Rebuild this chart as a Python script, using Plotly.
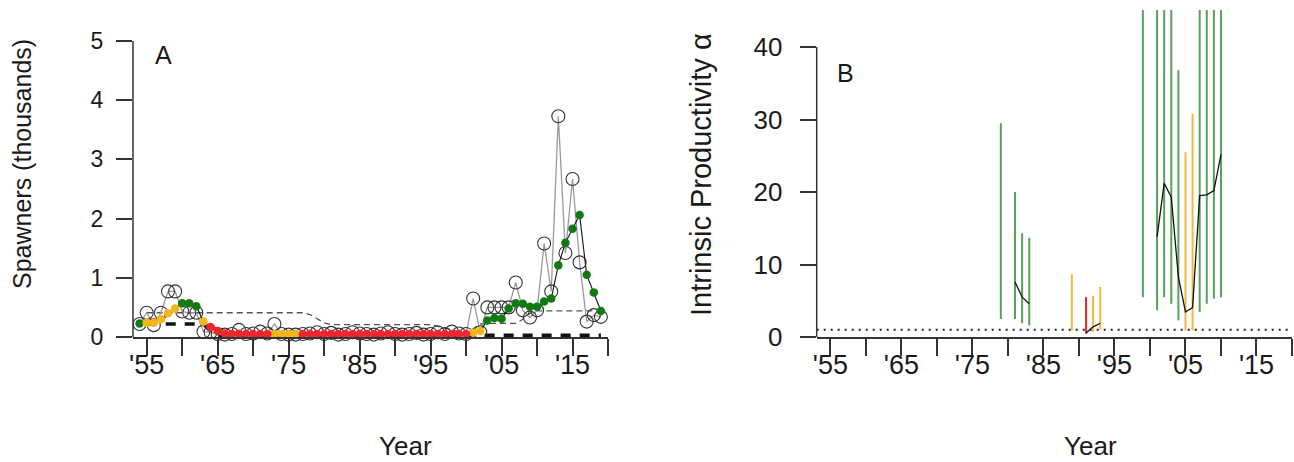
import plotly.graph_objects as go

W, H = 1294, 462

# ---------------- Panel A data ----------------
years_a = list(range(1954, 2020))
observed = [0.22, 0.41, 0.20, 0.41, 0.77, 0.77, 0.43, 0.41, 0.41, 0.09,   # 1954-1963
            0.08, 0.05, 0.04, 0.05, 0.12, 0.05, 0.06, 0.09, 0.06, 0.22,   # 1964-1973
            0.05, 0.04, 0.04, 0.05, 0.06, 0.08, 0.05, 0.07, 0.04, 0.05,   # 1974-1983
            0.08, 0.06, 0.05, 0.04, 0.06, 0.08, 0.05, 0.04, 0.05, 0.07,   # 1984-1993
            0.04, 0.05, 0.08, 0.05, 0.09, 0.06, 0.05, 0.65, 0.08, 0.50,   # 1994-2003
            0.50, 0.50, 0.50, 0.92, 0.45, 0.33, 0.45, 1.58, 0.77, 3.73,   # 2004-2013
            1.42, 2.67, 1.26, 0.26, 0.37, 0.34]                           # 2014-2019
smoothed = [0.23, 0.24, 0.24, 0.30, 0.40, 0.48, 0.57, 0.57, 0.52, 0.26,   # 1954-1963
            0.17, 0.10, 0.06, 0.05, 0.05, 0.05, 0.05, 0.05, 0.05, 0.05,   # 1964-1973
            0.05, 0.05, 0.05, 0.05, 0.05, 0.05, 0.05, 0.05, 0.05, 0.05,   # 1974-1983
            0.05, 0.05, 0.05, 0.05, 0.05, 0.05, 0.05, 0.05, 0.05, 0.05,   # 1984-1993
            0.05, 0.05, 0.05, 0.05, 0.05, 0.05, 0.05, 0.07, 0.10, 0.28,   # 1994-2003
            0.32, 0.31, 0.48, 0.57, 0.56, 0.51, 0.51, 0.60, 0.65, 1.21,   # 2004-2013
            1.59, 1.83, 2.06, 1.05, 0.75, 0.44]                           # 2014-2019
status_a = (["G"] + ["Y"] * 5 + ["G"] * 3 + ["Y"] + ["R"] * 9 + ["Y"] * 4 +
            ["R"] * 24 + ["Y"] * 2 + ["G"] * 17)

years_bm = list(range(1955, 2020))
upper_bm = ([0.41] * 23 + [0.38, 0.31, 0.24] + [0.21] * 15 +
            [0.18, 0.15, 0.12, 0.09, 0.06, 0.14, 0.22] + [0.23] * 5 +
            [0.30, 0.40] + [0.44] * 10)
lower_bm = [0.22] * 9 + [0.10] + [0.03] * 55

# ---------------- Panel B data ----------------
years_b = [1979, 1981, 1982, 1983, 1989, 1991, 1992, 1993, 1999, 2001,
           2002, 2003, 2004, 2005, 2006, 2007, 2008, 2009, 2010]
alpha_lo = [2.5, 2.5, 1.9, 1.6, 0.9, 0.45, 0.7, 1.0, 5.5, 3.7,
            5.5, 4.6, 2.3, 0.9, 0.9, 3.45, 4.6, 5.3, 5.5]
alpha_hi = [29.5, 20.0, 14.3, 13.7, 8.65, 5.5, 5.7, 6.9, 55, 55,
            55, 55, 36.8, 25.5, 30.8, 55, 55, 55, 55]
alpha_med = [8.0, 7.6, 5.5, 4.6, 2.5, 0.55, 1.4, 1.9, 15.0, 13.8,
             21.2, 19.3, 8.3, 3.45, 4.05, 19.5, 19.6, 20.2, 25.2]
status_b = ["G", "G", "G", "G", "Y", "R", "Y", "Y", "G", "G",
            "G", "G", "G", "Y", "Y", "G", "G", "G", "G"]

x_ticks = list(range(1955, 2021, 5))
x_ticktext = ["'%02d" % (t % 100) if i % 2 == 0 else "" for i, t in enumerate(x_ticks)]
ya_ticks = [0, 1, 2, 3, 4, 5]
yb_ticks = [0, 10, 20, 30, 40]

DOT_COL = {"G": "#137a13", "Y": "#f6b51a", "R": "#f0262c"}
BAR_COL = {"G": "#58a158", "Y": "#f5b83a", "R": "#e8242c"}

# ---------------- geometry (pixels) ----------------
A_L, A_R = 133, 608
B_L, B_R = 816.7, 1292
P_T, P_B = 10, 337
XR = [1953.07, 2020.0]
YA_RANGE = [0, (P_B - P_T) / 59.2]
YB_RANGE = [0, (P_B - P_T) / 7.25]

def px(x):
    return x / W

def py(y):
    return 1 - y / H

fig = go.Figure()

# upper benchmark (thin dashed)
fig.add_trace(go.Scatter(x=years_bm, y=upper_bm, mode="lines",
                         line=dict(color="#555555", width=1.3, dash="6px,4px"),
                         xaxis="x", yaxis="y", hoverinfo="skip"))
# lower benchmark (thick dashed)
fig.add_trace(go.Scatter(x=years_bm, y=lower_bm, mode="lines",
                         line=dict(color="#111111", width=3.5, dash="10px,9px"),
                         xaxis="x", yaxis="y", hoverinfo="skip"))
# observed spawners
fig.add_trace(go.Scatter(x=years_a, y=observed, mode="lines+markers",
                         line=dict(color="#9a9a9a", width=1.3),
                         marker=dict(symbol="circle-open", size=13,
                                     color="#333333", line=dict(width=1.1)),
                         cliponaxis=False, xaxis="x", yaxis="y", hoverinfo="skip"))
# smoothed line
fig.add_trace(go.Scatter(x=years_a, y=smoothed, mode="lines",
                         line=dict(color="#111111", width=1.1),
                         xaxis="x", yaxis="y", hoverinfo="skip"))
# coloured status dots
for s in ["G", "Y", "R"]:
    xs = [yr for yr, st in zip(years_a, status_a) if st == s]
    ys = [v for v, st in zip(smoothed, status_a) if st == s]
    fig.add_trace(go.Scatter(x=xs, y=ys, mode="markers",
                             marker=dict(size=8.5, color=DOT_COL[s]),
                             cliponaxis=False, xaxis="x", yaxis="y", hoverinfo="skip"))

# ---------------- Panel B ----------------
fig.add_trace(go.Scatter(x=[XR[0], 2020], y=[1, 1], mode="lines",
                         line=dict(color="#222222", width=2, dash="2px,5px"),
                         xaxis="x2", yaxis="y2", hoverinfo="skip"))
for s in ["G", "Y", "R"]:
    xs, ys = [], []
    for yr, lo, hi, st in zip(years_b, alpha_lo, alpha_hi, status_b):
        if st == s:
            xs += [yr, yr, None]
            ys += [lo, hi, None]
    fig.add_trace(go.Scatter(x=xs, y=ys, mode="lines",
                             line=dict(color=BAR_COL[s], width=2),
                             xaxis="x2", yaxis="y2", hoverinfo="skip"))
mx, my = [], []
prev = None
for yr, m in zip(years_b, alpha_med):
    if prev is not None and yr - prev > 1:
        mx.append(None)
        my.append(None)
    mx.append(yr)
    my.append(m)
    prev = yr
fig.add_trace(go.Scatter(x=mx, y=my, mode="lines",
                         line=dict(color="#111111", width=1.3),
                         xaxis="x2", yaxis="y2", hoverinfo="skip"))

FONT = "Liberation Sans, Arial, sans-serif"
TXT = "#1a1a1a"

xaxis_common = dict(range=XR, showgrid=False, zeroline=False, showline=True,
                    linecolor="#333333", linewidth=1.5, ticks="outside", ticklen=17,
                    tickwidth=1.5, tickcolor="#333333", tickvals=x_ticks,
                    ticktext=x_ticktext, tickfont=dict(size=27, color=TXT, family=FONT),
                    ticklabelstandoff=-14, fixedrange=True)
yaxis_common = dict(showgrid=False, zeroline=False, showline=False, ticks="outside",
                    ticklen=16, tickwidth=1.5, tickcolor="#333333", fixedrange=True)

fig.update_layout(
    width=W, height=H, margin=dict(l=0, r=0, t=0, b=0, autoexpand=False),
    paper_bgcolor="white", plot_bgcolor="white", showlegend=False,
    xaxis=dict(domain=[px(A_L), px(A_R)], anchor="y", **xaxis_common),
    yaxis=dict(domain=[py(P_B), py(P_T)], anchor="x", range=YA_RANGE,
               tickvals=ya_ticks, ticklabelstandoff=8,
               tickfont=dict(size=23, color=TXT, family=FONT), **yaxis_common),
    xaxis2=dict(domain=[px(B_L), px(B_R)], anchor="y2", **xaxis_common),
    yaxis2=dict(domain=[py(P_B), py(P_T)], anchor="x2", range=YB_RANGE,
                tickvals=yb_ticks, ticklabelstandoff=12,
                tickfont=dict(size=26, color=TXT, family=FONT), **yaxis_common),
)

# y-axis lines (from first to last tick, R style)
fig.add_shape(type="line", xref="paper", yref="y", x0=px(A_L), x1=px(A_L),
              y0=0, y1=5, line=dict(color="#333333", width=1.5))
fig.add_shape(type="line", xref="paper", yref="y2", x0=px(B_L), x1=px(B_L),
              y0=0, y1=40, line=dict(color="#333333", width=1.5))

def ann(text, x, y, size, angle=0):
    fig.add_annotation(text=text, xref="paper", yref="paper", x=px(x), y=py(y),
                       showarrow=False, textangle=angle, xanchor="center",
                       yanchor="middle", font=dict(size=size, color=TXT, family=FONT))

ann("A", 163, 55, 25)
ann("B", 845, 73, 25)
ann("Spawners (thousands)", 22, 164, 25, -90)
ann("Intrinsic Productivity \u03b1", 701, 175, 29, -90)
ann("Year", 405, 446, 26)
ann("Year", 1090, 446, 26)

fig.write_html("out.html", config={"displayModeBar": False},
               post_script="document.body.style.margin='0px';document.body.style.overflow='hidden';")
